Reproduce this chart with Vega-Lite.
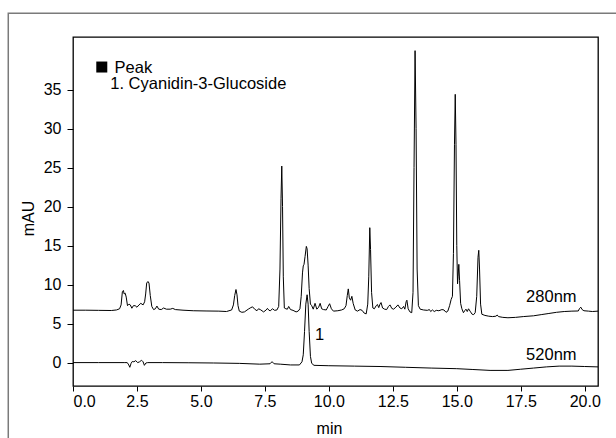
{
  "$schema": "https://vega.github.io/schema/vega-lite/v6.json",
  "width": 525,
  "height": 349,
  "autosize": {"type": "none"},
  "padding": {"left": 73, "top": 37, "right": 18, "bottom": 52},
  "background": "white",
  "config": {
    "font": "Liberation Sans",
    "view": {"stroke": "#000000", "strokeWidth": 1.3},
    "axis": {"grid": false, "domain": false, "tickColor": "#000000", "tickWidth": 1, "labelColor": "#000000", "labelFontSize": 16, "titleFontSize": 16, "titleFontWeight": "normal", "titleColor": "#000000", "labelFont": "Liberation Sans", "titleFont": "Liberation Sans"}
  },
  "datasets": {
    "trace": [
      {"s": "280nm", "t": 0, "v": 6.72}, {"s": "280nm", "t": 0.5, "v": 6.72}, {"s": "280nm", "t": 1.0, "v": 6.7}, {"s": "280nm", "t": 1.5, "v": 6.68}, {"s": "280nm", "t": 1.7, "v": 6.75}, {"s": "280nm", "t": 1.82, "v": 6.9}, {"s": "280nm", "t": 1.88, "v": 7.4}, {"s": "280nm", "t": 1.93, "v": 9.1}, {"s": "280nm", "t": 1.97, "v": 9.25}, {"s": "280nm", "t": 2.0, "v": 8.8}, {"s": "280nm", "t": 2.04, "v": 8.9}, {"s": "280nm", "t": 2.08, "v": 8.4}, {"s": "280nm", "t": 2.13, "v": 7.3}, {"s": "280nm", "t": 2.19, "v": 7.5}, {"s": "280nm", "t": 2.24, "v": 7.4}, {"s": "280nm", "t": 2.3, "v": 6.97}, {"s": "280nm", "t": 2.36, "v": 7.3}, {"s": "280nm", "t": 2.43, "v": 7.3}, {"s": "280nm", "t": 2.5, "v": 7.1}, {"s": "280nm", "t": 2.58, "v": 7.4}, {"s": "280nm", "t": 2.65, "v": 7.6}, {"s": "280nm", "t": 2.74, "v": 7.4}, {"s": "280nm", "t": 2.8, "v": 7.8}, {"s": "280nm", "t": 2.84, "v": 8.8}, {"s": "280nm", "t": 2.88, "v": 10.2}, {"s": "280nm", "t": 2.93, "v": 10.4}, {"s": "280nm", "t": 2.97, "v": 10.2}, {"s": "280nm", "t": 3.02, "v": 8.6}, {"s": "280nm", "t": 3.08, "v": 7.2}, {"s": "280nm", "t": 3.15, "v": 6.8}, {"s": "280nm", "t": 3.22, "v": 6.9}, {"s": "280nm", "t": 3.28, "v": 7.25}, {"s": "280nm", "t": 3.35, "v": 6.85}, {"s": "280nm", "t": 3.45, "v": 6.8}, {"s": "280nm", "t": 3.54, "v": 7.0}, {"s": "280nm", "t": 3.65, "v": 6.85}, {"s": "280nm", "t": 3.8, "v": 6.85}, {"s": "280nm", "t": 3.9, "v": 6.95}, {"s": "280nm", "t": 4.0, "v": 6.8}, {"s": "280nm", "t": 4.3, "v": 6.72}, {"s": "280nm", "t": 4.7, "v": 6.65}, {"s": "280nm", "t": 5.2, "v": 6.62}, {"s": "280nm", "t": 5.7, "v": 6.6}, {"s": "280nm", "t": 6.0, "v": 6.55}, {"s": "280nm", "t": 6.2, "v": 6.75}, {"s": "280nm", "t": 6.27, "v": 7.4}, {"s": "280nm", "t": 6.32, "v": 8.6}, {"s": "280nm", "t": 6.37, "v": 9.37}, {"s": "280nm", "t": 6.41, "v": 8.7}, {"s": "280nm", "t": 6.45, "v": 7.3}, {"s": "280nm", "t": 6.5, "v": 6.6}, {"s": "280nm", "t": 6.6, "v": 6.45}, {"s": "280nm", "t": 6.7, "v": 6.5}, {"s": "280nm", "t": 6.85, "v": 6.85}, {"s": "280nm", "t": 6.95, "v": 7.05}, {"s": "280nm", "t": 7.02, "v": 7.15}, {"s": "280nm", "t": 7.1, "v": 6.85}, {"s": "280nm", "t": 7.19, "v": 6.65}, {"s": "280nm", "t": 7.25, "v": 6.9}, {"s": "280nm", "t": 7.32, "v": 6.8}, {"s": "280nm", "t": 7.45, "v": 6.5}, {"s": "280nm", "t": 7.55, "v": 6.75}, {"s": "280nm", "t": 7.6, "v": 6.95}, {"s": "280nm", "t": 7.66, "v": 6.7}, {"s": "280nm", "t": 7.71, "v": 6.65}, {"s": "280nm", "t": 7.8, "v": 6.9}, {"s": "280nm", "t": 7.88, "v": 6.7}, {"s": "280nm", "t": 7.97, "v": 6.75}, {"s": "280nm", "t": 8.04, "v": 7.2}, {"s": "280nm", "t": 8.09, "v": 12}, {"s": "280nm", "t": 8.13, "v": 21}, {"s": "280nm", "t": 8.16, "v": 25.2}, {"s": "280nm", "t": 8.19, "v": 20}, {"s": "280nm", "t": 8.22, "v": 11}, {"s": "280nm", "t": 8.26, "v": 7.0}, {"s": "280nm", "t": 8.32, "v": 6.9}, {"s": "280nm", "t": 8.38, "v": 6.85}, {"s": "280nm", "t": 8.43, "v": 7.2}, {"s": "280nm", "t": 8.5, "v": 6.8}, {"s": "280nm", "t": 8.6, "v": 6.7}, {"s": "280nm", "t": 8.72, "v": 6.5}, {"s": "280nm", "t": 8.8, "v": 6.6}, {"s": "280nm", "t": 8.87, "v": 6.9}, {"s": "280nm", "t": 8.92, "v": 8.5}, {"s": "280nm", "t": 8.97, "v": 11.5}, {"s": "280nm", "t": 9.0, "v": 12.4}, {"s": "280nm", "t": 9.03, "v": 12.6}, {"s": "280nm", "t": 9.07, "v": 13.6}, {"s": "280nm", "t": 9.12, "v": 14.9}, {"s": "280nm", "t": 9.15, "v": 14.6}, {"s": "280nm", "t": 9.19, "v": 12.5}, {"s": "280nm", "t": 9.23, "v": 9.5}, {"s": "280nm", "t": 9.28, "v": 7.5}, {"s": "280nm", "t": 9.33, "v": 7.3}, {"s": "280nm", "t": 9.39, "v": 6.85}, {"s": "280nm", "t": 9.46, "v": 7.6}, {"s": "280nm", "t": 9.53, "v": 6.85}, {"s": "280nm", "t": 9.6, "v": 7.1}, {"s": "280nm", "t": 9.66, "v": 7.6}, {"s": "280nm", "t": 9.72, "v": 6.9}, {"s": "280nm", "t": 9.79, "v": 6.8}, {"s": "280nm", "t": 9.9, "v": 6.75}, {"s": "280nm", "t": 9.97, "v": 7.2}, {"s": "280nm", "t": 10.03, "v": 7.55}, {"s": "280nm", "t": 10.1, "v": 6.9}, {"s": "280nm", "t": 10.18, "v": 6.6}, {"s": "280nm", "t": 10.35, "v": 6.65}, {"s": "280nm", "t": 10.5, "v": 6.75}, {"s": "280nm", "t": 10.6, "v": 6.9}, {"s": "280nm", "t": 10.67, "v": 7.3}, {"s": "280nm", "t": 10.72, "v": 8.6}, {"s": "280nm", "t": 10.76, "v": 9.45}, {"s": "280nm", "t": 10.8, "v": 8.3}, {"s": "280nm", "t": 10.85, "v": 8.0}, {"s": "280nm", "t": 10.9, "v": 8.5}, {"s": "280nm", "t": 10.95, "v": 7.6}, {"s": "280nm", "t": 11.03, "v": 6.75}, {"s": "280nm", "t": 11.12, "v": 6.6}, {"s": "280nm", "t": 11.22, "v": 6.8}, {"s": "280nm", "t": 11.3, "v": 6.7}, {"s": "280nm", "t": 11.38, "v": 6.35}, {"s": "280nm", "t": 11.46, "v": 6.25}, {"s": "280nm", "t": 11.52, "v": 7.5}, {"s": "280nm", "t": 11.56, "v": 11}, {"s": "280nm", "t": 11.6, "v": 17.3}, {"s": "280nm", "t": 11.63, "v": 14.5}, {"s": "280nm", "t": 11.67, "v": 9}, {"s": "280nm", "t": 11.72, "v": 7.0}, {"s": "280nm", "t": 11.78, "v": 6.9}, {"s": "280nm", "t": 11.85, "v": 7.3}, {"s": "280nm", "t": 11.9, "v": 7.45}, {"s": "280nm", "t": 11.95, "v": 7.05}, {"s": "280nm", "t": 12.0, "v": 7.5}, {"s": "280nm", "t": 12.04, "v": 7.7}, {"s": "280nm", "t": 12.1, "v": 7.0}, {"s": "280nm", "t": 12.18, "v": 6.85}, {"s": "280nm", "t": 12.26, "v": 6.8}, {"s": "280nm", "t": 12.33, "v": 7.2}, {"s": "280nm", "t": 12.39, "v": 7.4}, {"s": "280nm", "t": 12.46, "v": 6.95}, {"s": "280nm", "t": 12.53, "v": 6.85}, {"s": "280nm", "t": 12.62, "v": 7.1}, {"s": "280nm", "t": 12.7, "v": 7.4}, {"s": "280nm", "t": 12.78, "v": 7.0}, {"s": "280nm", "t": 12.85, "v": 6.9}, {"s": "280nm", "t": 12.92, "v": 7.2}, {"s": "280nm", "t": 12.97, "v": 6.85}, {"s": "280nm", "t": 13.02, "v": 7.8}, {"s": "280nm", "t": 13.05, "v": 8.0}, {"s": "280nm", "t": 13.1, "v": 6.9}, {"s": "280nm", "t": 13.17, "v": 6.5}, {"s": "280nm", "t": 13.24, "v": 6.4}, {"s": "280nm", "t": 13.29, "v": 9}, {"s": "280nm", "t": 13.33, "v": 25}, {"s": "280nm", "t": 13.37, "v": 40.0}, {"s": "280nm", "t": 13.41, "v": 30}, {"s": "280nm", "t": 13.45, "v": 12}, {"s": "280nm", "t": 13.5, "v": 7.3}, {"s": "280nm", "t": 13.57, "v": 6.85}, {"s": "280nm", "t": 13.7, "v": 6.75}, {"s": "280nm", "t": 13.85, "v": 6.7}, {"s": "280nm", "t": 13.93, "v": 6.8}, {"s": "280nm", "t": 13.98, "v": 6.55}, {"s": "280nm", "t": 14.05, "v": 6.75}, {"s": "280nm", "t": 14.12, "v": 6.55}, {"s": "280nm", "t": 14.2, "v": 6.7}, {"s": "280nm", "t": 14.3, "v": 6.65}, {"s": "280nm", "t": 14.42, "v": 6.8}, {"s": "280nm", "t": 14.5, "v": 6.75}, {"s": "280nm", "t": 14.58, "v": 6.45}, {"s": "280nm", "t": 14.65, "v": 6.6}, {"s": "280nm", "t": 14.72, "v": 7.3}, {"s": "280nm", "t": 14.78, "v": 8.1}, {"s": "280nm", "t": 14.83, "v": 8.5}, {"s": "280nm", "t": 14.87, "v": 14}, {"s": "280nm", "t": 14.91, "v": 28}, {"s": "280nm", "t": 14.94, "v": 34.4}, {"s": "280nm", "t": 14.97, "v": 28}, {"s": "280nm", "t": 15.0, "v": 15}, {"s": "280nm", "t": 15.03, "v": 10.1}, {"s": "280nm", "t": 15.05, "v": 11}, {"s": "280nm", "t": 15.08, "v": 12.6}, {"s": "280nm", "t": 15.11, "v": 10.5}, {"s": "280nm", "t": 15.15, "v": 7.6}, {"s": "280nm", "t": 15.2, "v": 6.9}, {"s": "280nm", "t": 15.26, "v": 6.4}, {"s": "280nm", "t": 15.32, "v": 6.7}, {"s": "280nm", "t": 15.36, "v": 6.85}, {"s": "280nm", "t": 15.41, "v": 6.55}, {"s": "280nm", "t": 15.46, "v": 6.9}, {"s": "280nm", "t": 15.52, "v": 6.6}, {"s": "280nm", "t": 15.6, "v": 6.2}, {"s": "280nm", "t": 15.66, "v": 6.15}, {"s": "280nm", "t": 15.72, "v": 6.4}, {"s": "280nm", "t": 15.78, "v": 8.5}, {"s": "280nm", "t": 15.83, "v": 13.5}, {"s": "280nm", "t": 15.86, "v": 14.4}, {"s": "280nm", "t": 15.89, "v": 12}, {"s": "280nm", "t": 15.93, "v": 7.5}, {"s": "280nm", "t": 15.98, "v": 6.2}, {"s": "280nm", "t": 16.1, "v": 6.05}, {"s": "280nm", "t": 16.25, "v": 5.95}, {"s": "280nm", "t": 16.4, "v": 5.9}, {"s": "280nm", "t": 16.53, "v": 5.95}, {"s": "280nm", "t": 16.58, "v": 6.1}, {"s": "280nm", "t": 16.63, "v": 5.9}, {"s": "280nm", "t": 16.8, "v": 5.8}, {"s": "280nm", "t": 17.0, "v": 5.75}, {"s": "280nm", "t": 17.3, "v": 5.8}, {"s": "280nm", "t": 17.6, "v": 5.9}, {"s": "280nm", "t": 18.0, "v": 6.0}, {"s": "280nm", "t": 18.3, "v": 6.15}, {"s": "280nm", "t": 18.6, "v": 6.3}, {"s": "280nm", "t": 18.9, "v": 6.45}, {"s": "280nm", "t": 19.2, "v": 6.55}, {"s": "280nm", "t": 19.5, "v": 6.6}, {"s": "280nm", "t": 19.75, "v": 6.62}, {"s": "280nm", "t": 19.8, "v": 6.95}, {"s": "280nm", "t": 19.85, "v": 7.1}, {"s": "280nm", "t": 19.9, "v": 6.8}, {"s": "280nm", "t": 19.97, "v": 6.65}, {"s": "280nm", "t": 20.15, "v": 6.6}, {"s": "280nm", "t": 20.3, "v": 6.55}, {"s": "280nm", "t": 20.52, "v": 6.6},
      {"s": "520nm", "t": 0, "v": 0.0}, {"s": "520nm", "t": 1.0, "v": 0.0}, {"s": "520nm", "t": 2.0, "v": 0.0}, {"s": "520nm", "t": 2.12, "v": 0.0}, {"s": "520nm", "t": 2.18, "v": -0.3}, {"s": "520nm", "t": 2.22, "v": -0.6}, {"s": "520nm", "t": 2.27, "v": -0.1}, {"s": "520nm", "t": 2.32, "v": 0.15}, {"s": "520nm", "t": 2.38, "v": 0.1}, {"s": "520nm", "t": 2.45, "v": 0.25}, {"s": "520nm", "t": 2.53, "v": 0.0}, {"s": "520nm", "t": 2.6, "v": 0.1}, {"s": "520nm", "t": 2.68, "v": 0.3}, {"s": "520nm", "t": 2.74, "v": 0.1}, {"s": "520nm", "t": 2.79, "v": -0.35}, {"s": "520nm", "t": 2.85, "v": -0.05}, {"s": "520nm", "t": 2.92, "v": 0.0}, {"s": "520nm", "t": 3.5, "v": 0.0}, {"s": "520nm", "t": 4.5, "v": -0.02}, {"s": "520nm", "t": 5.5, "v": -0.05}, {"s": "520nm", "t": 6.5, "v": -0.1}, {"s": "520nm", "t": 7.3, "v": -0.2}, {"s": "520nm", "t": 7.7, "v": -0.15}, {"s": "520nm", "t": 7.78, "v": 0.12}, {"s": "520nm", "t": 7.86, "v": -0.15}, {"s": "520nm", "t": 8.1, "v": -0.2}, {"s": "520nm", "t": 8.5, "v": -0.3}, {"s": "520nm", "t": 8.85, "v": -0.3}, {"s": "520nm", "t": 8.95, "v": 0.1}, {"s": "520nm", "t": 9.0, "v": 1.0}, {"s": "520nm", "t": 9.05, "v": 4}, {"s": "520nm", "t": 9.1, "v": 7.5}, {"s": "520nm", "t": 9.15, "v": 8.7}, {"s": "520nm", "t": 9.19, "v": 7.5}, {"s": "520nm", "t": 9.23, "v": 4}, {"s": "520nm", "t": 9.28, "v": 0.8}, {"s": "520nm", "t": 9.33, "v": -0.1}, {"s": "520nm", "t": 9.42, "v": -0.35}, {"s": "520nm", "t": 10.0, "v": -0.4}, {"s": "520nm", "t": 11.0, "v": -0.45}, {"s": "520nm", "t": 12.0, "v": -0.5}, {"s": "520nm", "t": 13.0, "v": -0.6}, {"s": "520nm", "t": 14.0, "v": -0.7}, {"s": "520nm", "t": 15.0, "v": -0.78}, {"s": "520nm", "t": 15.6, "v": -0.88}, {"s": "520nm", "t": 16.3, "v": -1.0}, {"s": "520nm", "t": 17.0, "v": -1.0}, {"s": "520nm", "t": 17.5, "v": -0.85}, {"s": "520nm", "t": 18.0, "v": -0.7}, {"s": "520nm", "t": 18.5, "v": -0.55}, {"s": "520nm", "t": 19.0, "v": -0.45}, {"s": "520nm", "t": 19.5, "v": -0.45}, {"s": "520nm", "t": 20.0, "v": -0.5}, {"s": "520nm", "t": 20.52, "v": -0.55}
    ],
    "notes": [
      {"t": 1.625, "v": 37.14, "label": "Peak"},
      {"t": 1.457, "v": 35.05, "label": "1. Cyanidin-3-Glucoside"},
      {"t": 17.71, "v": 7.74, "label": "280nm"},
      {"t": 17.71, "v": 0.35, "label": "520nm"},
      {"t": 9.46, "v": 2.91, "label": "1"}
    ],
    "marker": [{"t": 1.125, "v": 37.9}],
    "frame": [{"t": -2.53, "v": 44.8, "t2": 30, "v2": -20}]
  },
  "encoding": {
    "x": {"field": "t", "type": "quantitative",
      "scale": {"domain": [0, 20.52], "nice": false, "zero": false},
      "axis": {"title": "min", "values": [0, 2.5, 5, 7.5, 10, 12.5, 15, 17.5, 20], "format": ".1f", "tickSize": 5, "labelPadding": 15, "labelBaseline": "alphabetic", "titleX": 256, "titleY": 47, "titleBaseline": "alphabetic", "titleAnchor": null, "titleAlign": "center"}},
    "y": {"field": "v", "type": "quantitative",
      "scale": {"domain": [-3, 41.75], "nice": false, "zero": false},
      "axis": {"title": "mAU", "values": [0, 5, 10, 15, 20, 25, 30, 35], "tickSize": 6, "labelPadding": 6, "titleX": -40, "titleY": 181, "titleBaseline": "alphabetic", "titleAngle": 270, "titleAlign": "center"}}
  },
  "layer": [
    {
      "data": {"name": "frame"},
      "mark": {"type": "rect", "fill": null, "stroke": "#7a7a7a", "strokeWidth": 1.5, "clip": false},
      "encoding": {"x2": {"field": "t2"}, "y2": {"field": "v2"}}
    },
    {
      "data": {"name": "trace"},
      "mark": {"type": "line", "color": "#000000", "strokeWidth": 1, "interpolate": "linear"},
      "encoding": {"detail": {"field": "s", "type": "nominal"}}
    },
    {
      "data": {"name": "notes"},
      "mark": {"type": "text", "align": "left", "baseline": "alphabetic", "fontSize": 16.5, "color": "#000000", "font": "Liberation Sans"},
      "encoding": {"text": {"field": "label", "type": "nominal"}}
    },
    {
      "data": {"name": "marker"},
      "mark": {"type": "point", "shape": "square", "filled": true, "color": "#000000", "size": 121, "opacity": 1}
    }
  ]
}
